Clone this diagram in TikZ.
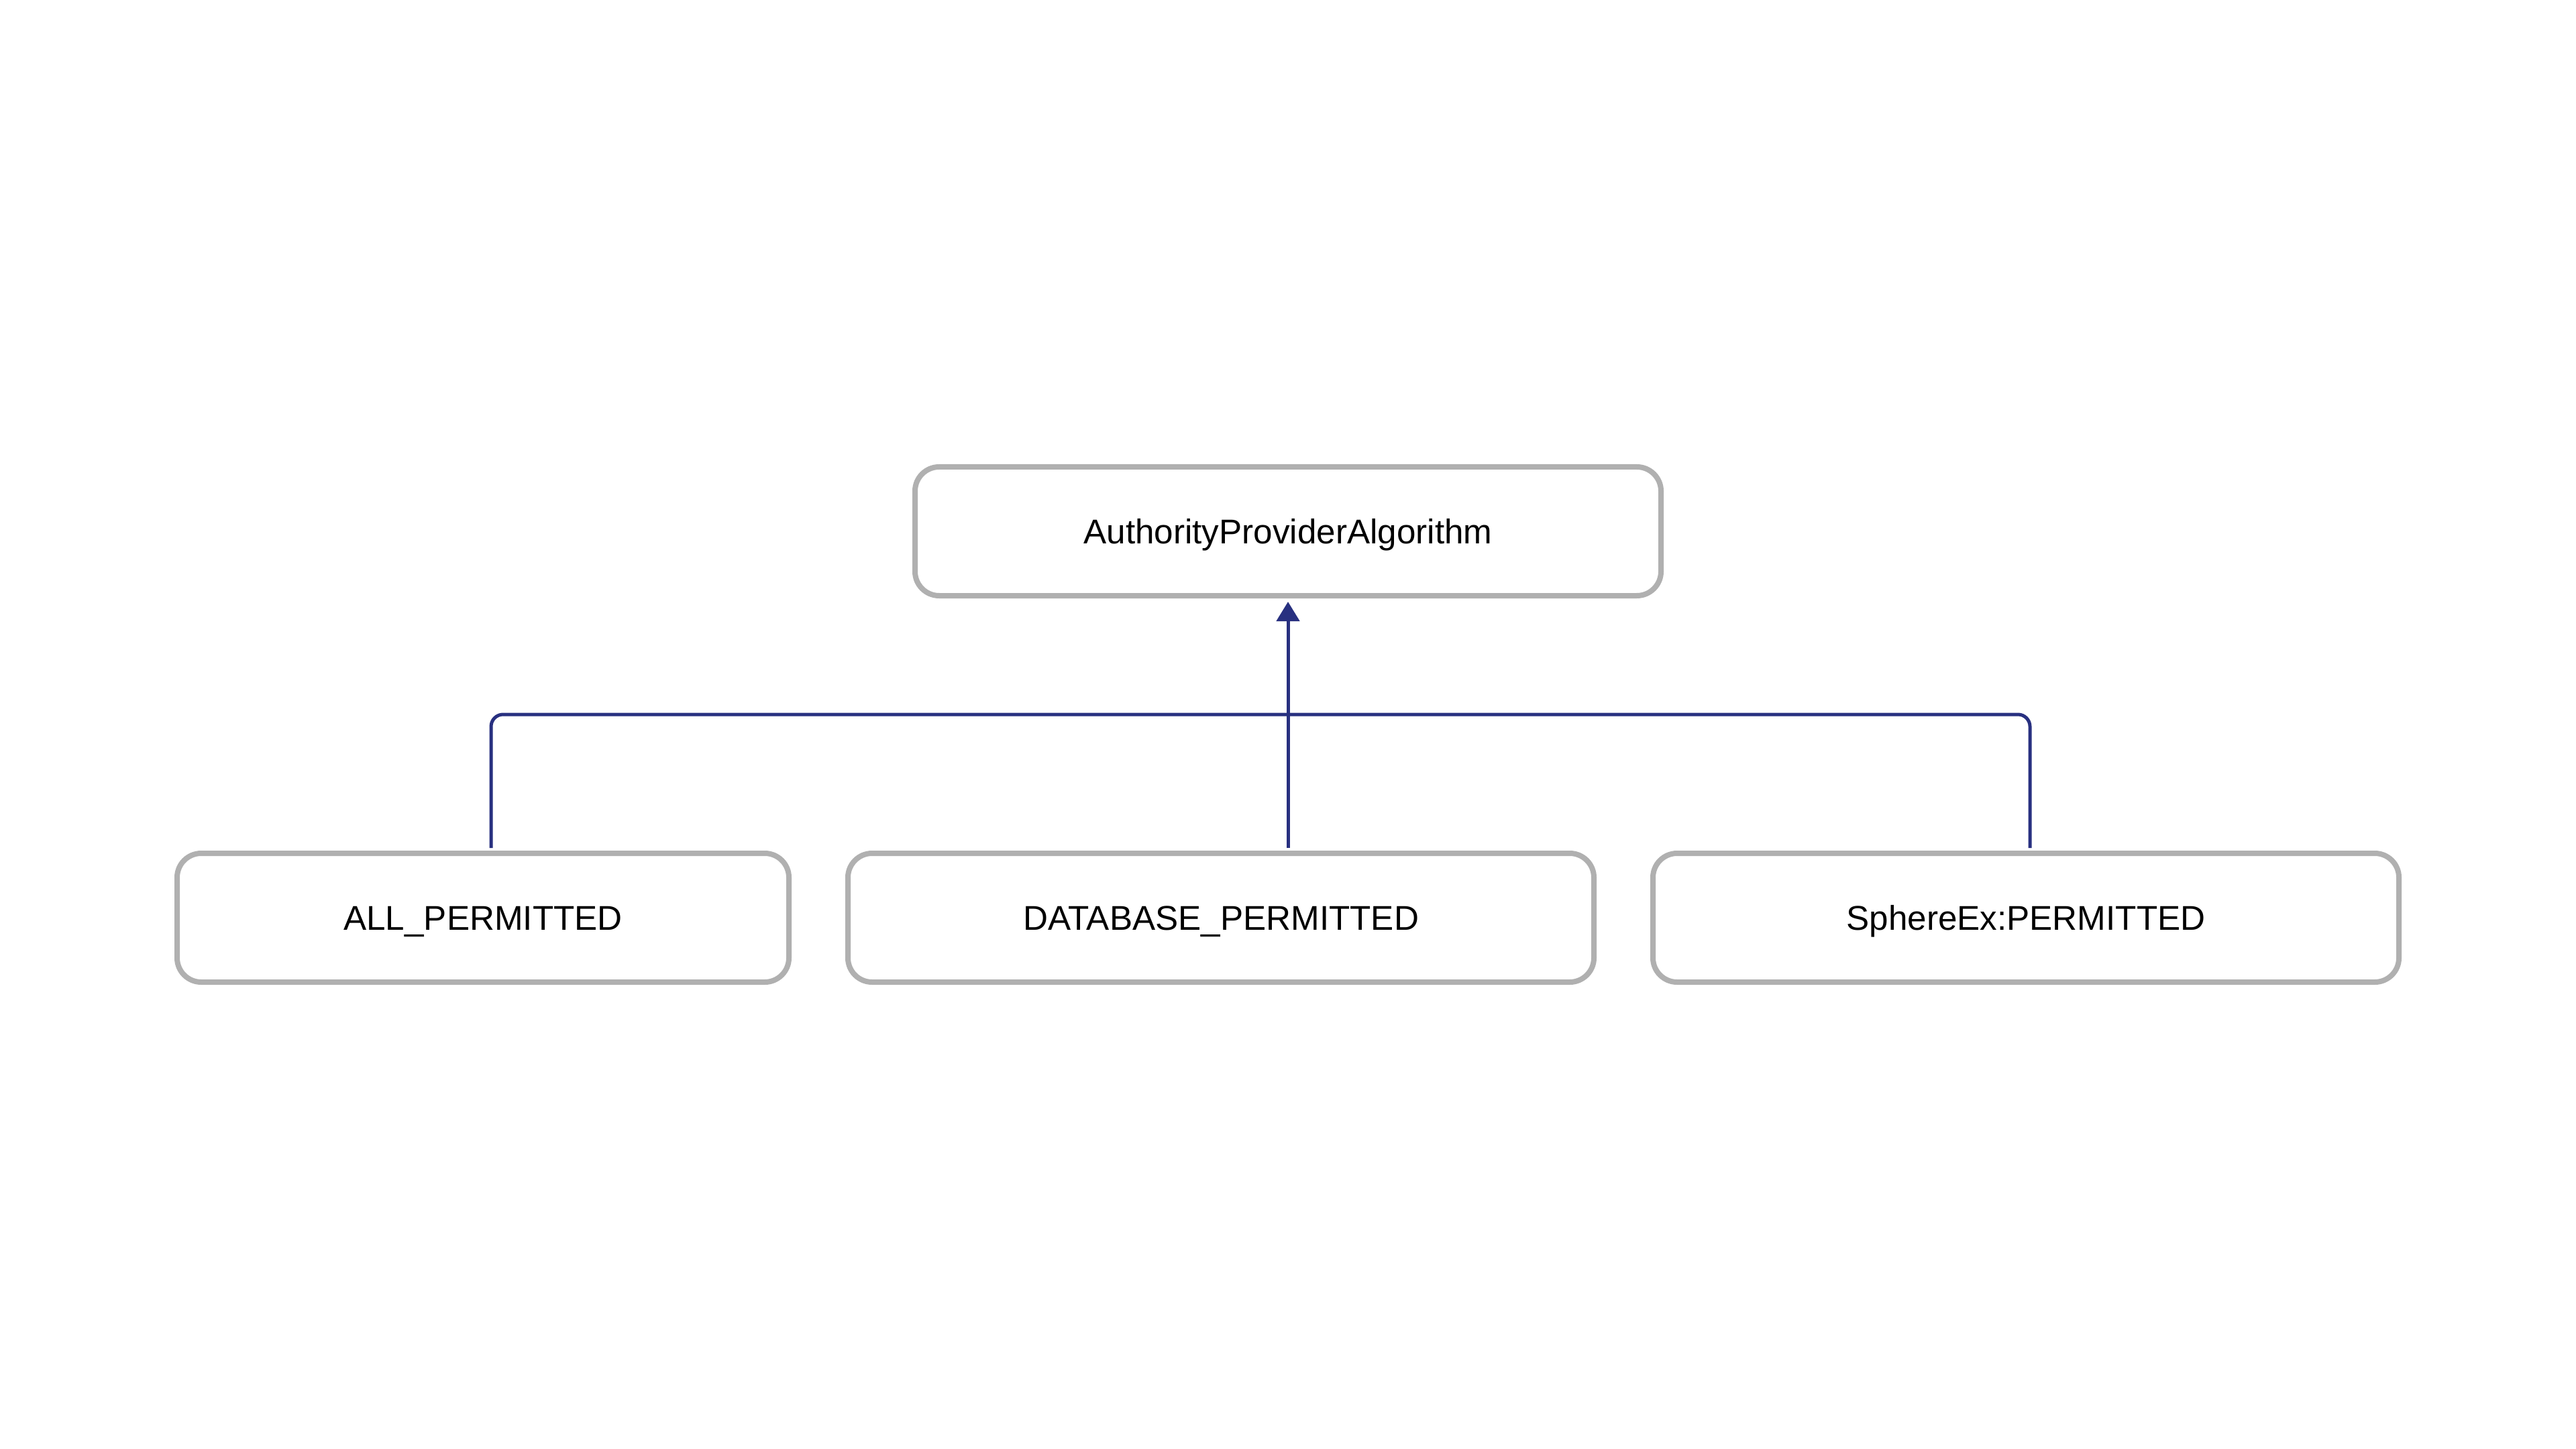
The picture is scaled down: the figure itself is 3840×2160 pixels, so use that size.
\documentclass[tikz,border=0pt]{standalone}
\usepackage{fontspec}
\setmainfont{Liberation Sans}
\usetikzlibrary{arrows.meta,calc}
\definecolor{boxgray}{RGB}{176,176,176}
\definecolor{linkblue}{RGB}{40,48,128}
\tikzset{
  algobox/.style={draw=boxgray, line width=2pt, rounded corners=9pt, fill=white,
    minimum height=48pt, inner sep=0pt, text height=9.2pt, text depth=0pt,
    font=\fontsize{12.8}{15}\selectfont},
  link/.style={draw=linkblue, line width=1.25pt, rounded corners=4.5pt},
}
\begin{document}
\begin{tikzpicture}[x=0.25pt,y=0.25pt,yscale=-1,xscale=1]
\useasboundingbox (0,0) rectangle (3840,2160);

% Parent box
\node [algobox, minimum width=278pt] (algo) at (1920,792) {AuthorityProviderAlgorithm};
% Child boxes
\node [algobox, minimum width=228pt] (allp) at (720,1368) {ALL\_PERMITTED};
\node [algobox, minimum width=278pt] (dbp) at (1820,1368) {DATABASE\_PERMITTED};
\node [algobox, minimum width=278pt] (sphp) at (3020,1368) {SphereEx:PERMITTED};

% Connectors
\coordinate (bus) at (1920,1065);
\draw [link, shorten <=1pt, shorten >=1pt] ([xshift=3pt]allp.north) |- (bus) -| ([xshift=1.5pt]sphp.north);
\draw [link, -{Triangle[width=8.5pt,length=7.25pt]}, shorten <=1pt, shorten >=1.25pt] (algo.south |- dbp.north) -- (algo.south);

\end{tikzpicture}
\end{document}
